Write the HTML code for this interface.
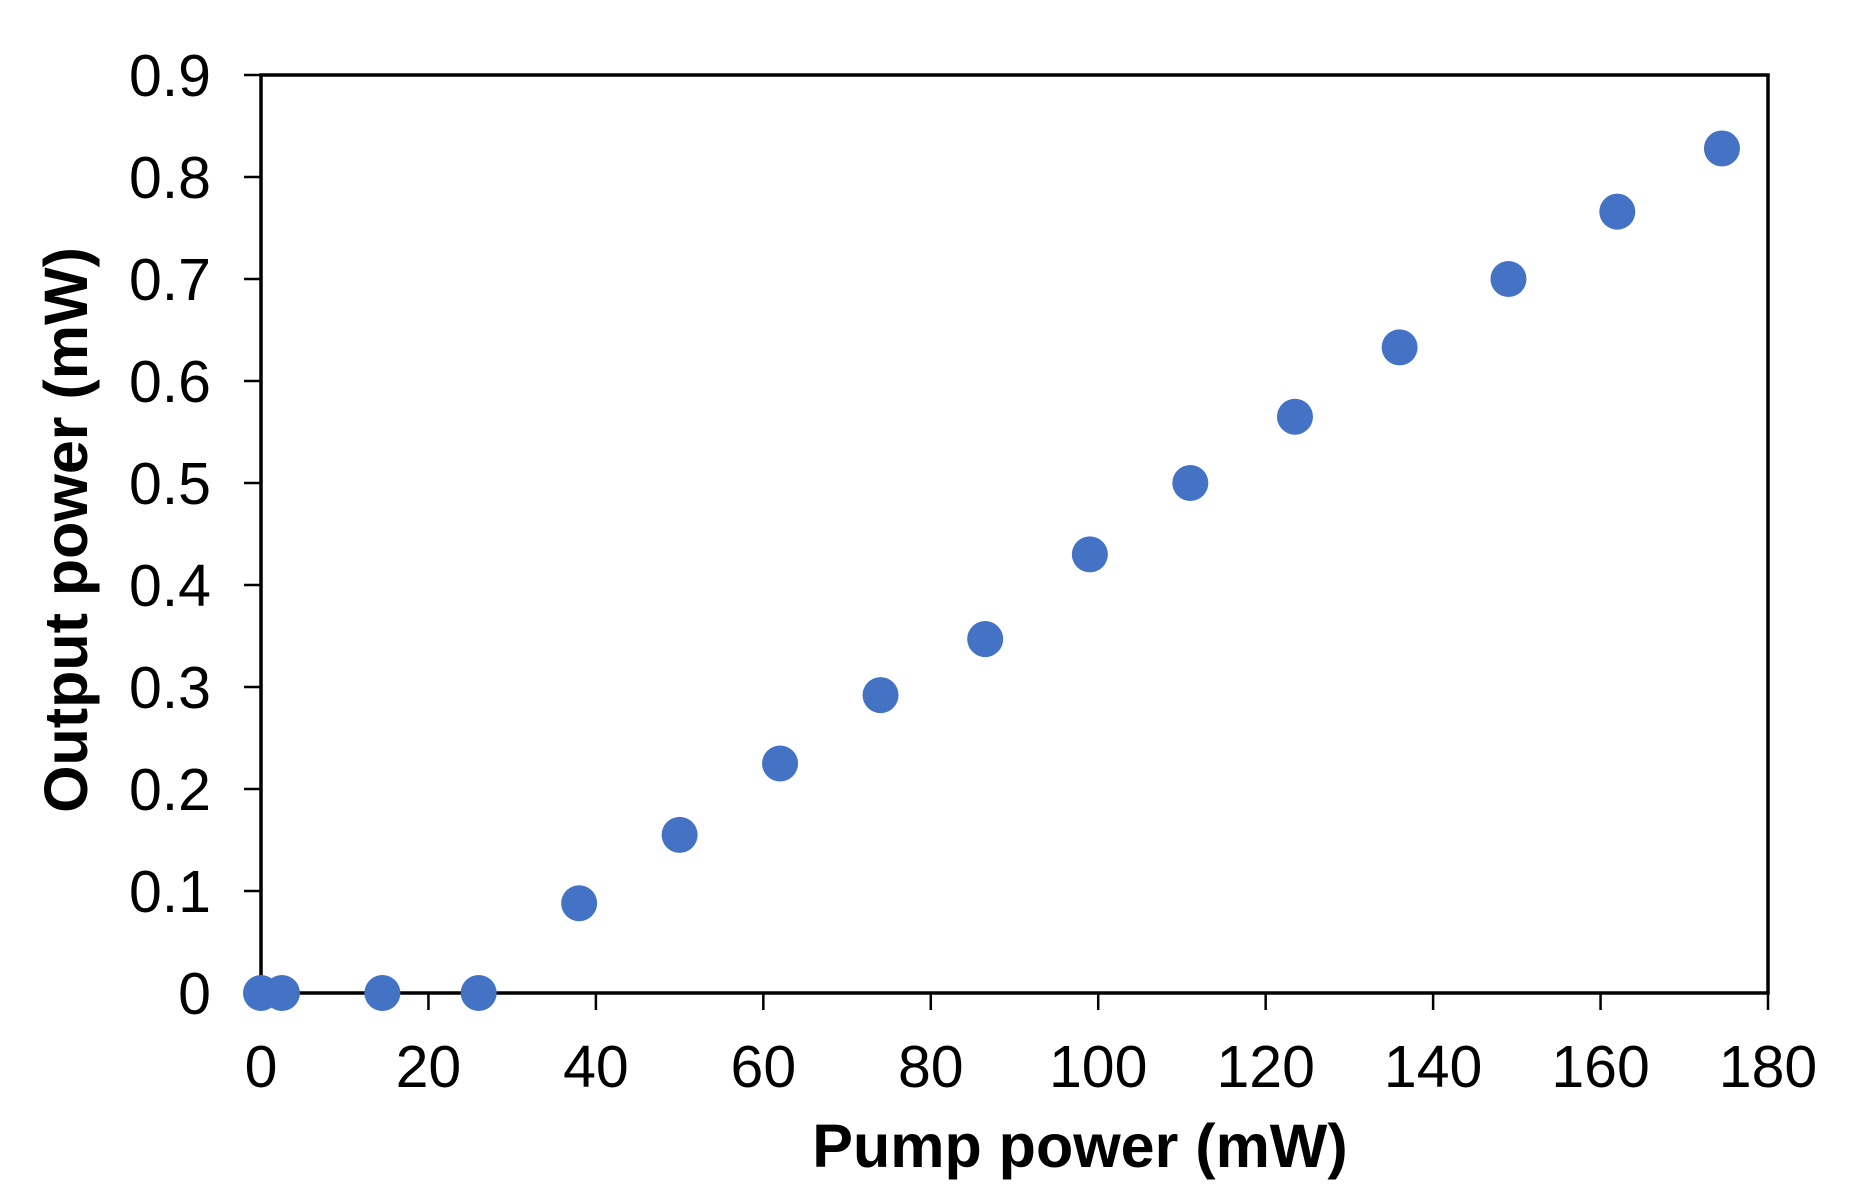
<!DOCTYPE html>
<html><head><meta charset="utf-8"><style>
html,body{margin:0;padding:0;background:#fff;}
svg{display:block;font-family:"Liberation Sans",sans-serif;}
</style></head><body>
<svg id="chart" width="1854" height="1202" viewBox="0 0 1854 1202" xmlns="http://www.w3.org/2000/svg"></svg>
<script>
const xTicks=[0,20,40,60,80,100,120,140,160,180];
const yTicks=[0,0.1,0.2,0.3,0.4,0.5,0.6,0.7,0.8,0.9];
const yTickLabels=["0","0.1","0.2","0.3","0.4","0.5","0.6","0.7","0.8","0.9"];
const pumpPower=[0,2.5,14.5,26,38,50,62,74,86.5,99,111,123.5,136,149,162,174.5];
const outputPower=[0,0,0,0,0.088,0.155,0.225,0.292,0.347,0.43,0.5,0.565,0.633,0.7,0.766,0.828];

const L=261,R=1768,T=75,B=993;
const sx=v=>L+(v-0)/(180-0)*(R-L);
const sy=v=>B-(v-0)/(0.9-0)*(B-T);
const svg=document.getElementById('chart');
const NS='http://www.w3.org/2000/svg';
function mk(tag,attrs,parent){const e=document.createElementNS(NS,tag);for(const k in attrs)e.setAttribute(k,attrs[k]);(parent||svg).appendChild(e);return e;}

const frame=mk('rect',{x:L,y:T,width:R-L,height:B-T,fill:'none',stroke:'#000','stroke-width':3.5});



const yAxis=mk('g',{});


yTicks.forEach((v,i)=>{
  const t=mk('line',{x1:L-17,x2:L,y1:sy(v),y2:sy(v),stroke:'#000','stroke-width':2.5},yAxis);
  
  
  const lb=mk('text',{x:211,y:sy(v)+21,'text-anchor':'end','font-size':59,fill:'#000'},yAxis);
  lb.textContent=yTickLabels[i];
  
  
});
const xAxis=mk('g',{});


xTicks.forEach(v=>{
  const t=mk('line',{x1:sx(v),x2:sx(v),y1:B,y2:B+17,stroke:'#000','stroke-width':2.5},xAxis);
  
  
  const lb=mk('text',{x:sx(v),y:1087,'text-anchor':'middle','font-size':59,fill:'#000'},xAxis);
  lb.textContent=String(v);
  
  
});
const xt=mk('text',{x:1080,y:1167,'text-anchor':'middle','font-size':61,'font-weight':'bold',fill:'#000'});
xt.textContent='Pump power (mW)';


const yt=mk('text',{x:0,y:0,'text-anchor':'middle','font-size':61,'font-weight':'bold',fill:'#000',transform:'translate(87,530) rotate(-90)'});
yt.textContent='Output power (mW)';



const pts=mk('g',{});


pumpPower.forEach((x,i)=>{
  const c=mk('circle',{cx:sx(x),cy:sy(outputPower[i]),r:18,fill:'#4472C4'},pts);
  
  
});
</script>
</body></html>
